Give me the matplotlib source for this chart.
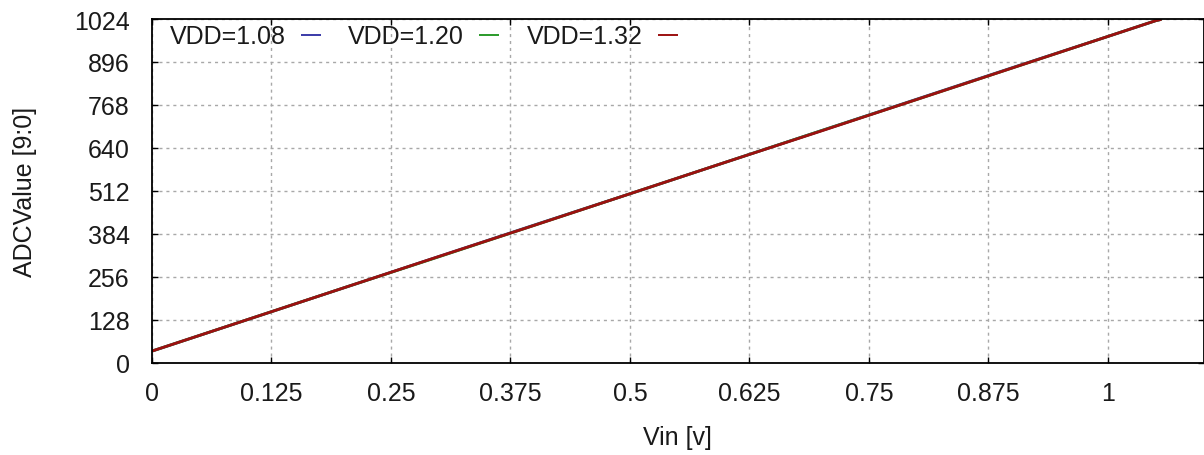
import matplotlib
matplotlib.use("Agg")
import matplotlib.pyplot as plt

plt.rcParams["font.family"] = ["Liberation Sans", "DejaVu Sans"]

# Input voltage sweep [V] and ADC output codes for each supply voltage
vin = [0.0, 0.1, 0.2, 0.3, 0.4, 0.5, 0.6, 0.7, 0.8, 0.9, 1.0, 1.05, 1.056]
adc_vdd108 = [34, 128, 222, 316, 410, 503, 597, 691, 785, 879, 972, 1019, 1023]
adc_vdd120 = [34, 128, 222, 315, 409, 503, 597, 691, 784, 878, 972, 1019, 1023]
adc_vdd132 = [34, 128, 222, 316, 409, 503, 597, 690, 784, 878, 972, 1019, 1023]

series_labels = ["VDD=1.08", "VDD=1.20", "VDD=1.32"]
series_colors = ["#3a3aa8", "#2a9a2a", "#9c1010"]

x_ticks = [0, 0.125, 0.25, 0.375, 0.5, 0.625, 0.75, 0.875, 1]
x_tick_labels = ["0", "0.125", "0.25", "0.375", "0.5", "0.625", "0.75", "0.875", "1"]
y_ticks = [0, 128, 256, 384, 512, 640, 768, 896, 1024]

W, H = 1204, 456
fig = plt.figure(figsize=(W / 100, H / 100), dpi=100)
ax = fig.add_axes([152 / W, (H - 363.5) / H, (1203.5 - 152) / W, 343.5 / H])

for ys, lab, col in zip([adc_vdd108, adc_vdd120, adc_vdd132], series_labels, series_colors):
    ax.plot(vin, ys, color=col, lw=2.0, label=lab, solid_capstyle="butt")

ax.set_xlim(0, 1.1)
ax.set_ylim(0, 1024)
ax.set_xticks(x_ticks)
ax.set_xticklabels(x_tick_labels)
ax.set_yticks(y_ticks)

fs = 18
tc = "#1a1a1a"
ax.tick_params(axis="both", which="major", direction="in", length=4.5, width=1,
               top=True, right=True, labelsize=fs, labelcolor=tc, color="black")
ax.tick_params(axis="y", pad=16)
ax.tick_params(axis="x", pad=13)

ax.grid(True, color="#a8a8a8", linestyle=(0, (2.2, 2.8)), linewidth=1.0)
ax.set_axisbelow(True)
for s in ax.spines.values():
    s.set_linewidth(1.3)
    s.set_color("black")
    s.set_zorder(5)

ax.set_xlabel("Vin [v]", fontsize=fs, color=tc, labelpad=15)
ax.set_ylabel("ADCValue [9:0]", fontsize=fs, color=tc, labelpad=27)

leg = ax.legend(loc="upper left", bbox_to_anchor=(0.017, 0.984), ncol=3,
                frameon=False, markerfirst=False, fontsize=fs,
                handlelength=0.8, handletextpad=0.6, columnspacing=1.1,
                borderpad=0, borderaxespad=0)
for t in leg.get_texts():
    t.set_color(tc)
for h in leg.get_lines():
    h.set_linewidth(1.4)

fig.savefig("out.png", dpi=100)
